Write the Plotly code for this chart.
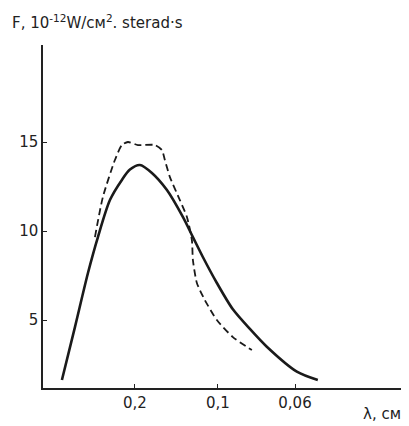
import plotly.graph_objects as go

# x positions along the (non-linear) wavelength axis, in tick-index units
tick_pos = [1.0, 2.0, 2.93]
tick_text = ["0,2", "0,1", "0,06"]

solid_x = [0.12, 0.277, 0.434, 0.554, 0.699, 0.843, 0.94, 1.06, 1.205, 1.386,
           1.578, 1.699, 1.819, 1.988, 2.181, 2.386, 2.59, 2.952, 3.205]
solid_y = [1.63, 4.6, 7.64, 9.66, 11.74, 12.87, 13.45, 13.71, 13.26, 12.30,
           10.79, 9.66, 8.54, 7.08, 5.6, 4.5, 3.5, 2.1, 1.63]

dash_x = [0.518, 0.614, 0.759, 0.843, 0.916, 1.036, 1.241, 1.325, 1.361, 1.422,
          1.542, 1.627, 1.687, 1.699, 1.747, 1.843, 1.988, 2.181, 2.41]
dash_y = [9.66, 11.91, 13.99, 14.83, 15.0, 14.83, 14.83, 14.55, 13.99, 13.03,
          11.74, 10.79, 9.49, 8.37, 7.08, 6.12, 5.0, 4.04, 3.31]

y_ticks = [5, 10, 15]

fig = go.Figure()
fig.add_trace(go.Scatter(x=solid_x, y=solid_y, mode="lines",
                         line=dict(color="#1a1a1a", width=2.6, shape="spline", smoothing=0.8)))
fig.add_trace(go.Scatter(x=dash_x, y=dash_y, mode="lines",
                         line=dict(color="#1a1a1a", width=1.8, dash="7px,4px", shape="spline", smoothing=0.6)))

font = dict(family="DejaVu Sans", size=15, color="#222")
fig.update_layout(
    width=401, height=418,
    margin=dict(l=35, r=2, t=37, b=38),
    paper_bgcolor="white", plot_bgcolor="white",
    showlegend=False,
    font=font,
    xaxis=dict(range=[-0.108, 4.28], showgrid=False, zeroline=False,
               showline=True, linecolor="#222", linewidth=1.5,
               ticks="inside", ticklen=4, tickcolor="#222",
               tickvals=tick_pos, ticktext=tick_text, tickfont=font),
    yaxis=dict(range=[1.18, 20.45], showgrid=False, zeroline=False,
               showline=True, linecolor="#222", linewidth=1.5,
               ticks="inside", ticklen=4, tickcolor="#222",
               tickvals=y_ticks, tickfont=font),
    annotations=[
        dict(text="F, 10<sup>-12</sup>W/cм<sup>2</sup>. sterad·s", xref="paper", yref="paper",
             x=-0.09, y=1.067, xanchor="left", yanchor="middle", showarrow=False,
             font=dict(family="DejaVu Sans", size=15, color="#222")),
        dict(text="λ, cм", xref="paper", yref="paper",
             x=0.99, y=-0.075, xanchor="right", yanchor="middle", showarrow=False,
             font=dict(family="DejaVu Sans", size=15, color="#222")),
    ],
)
fig.write_html("out.html")
